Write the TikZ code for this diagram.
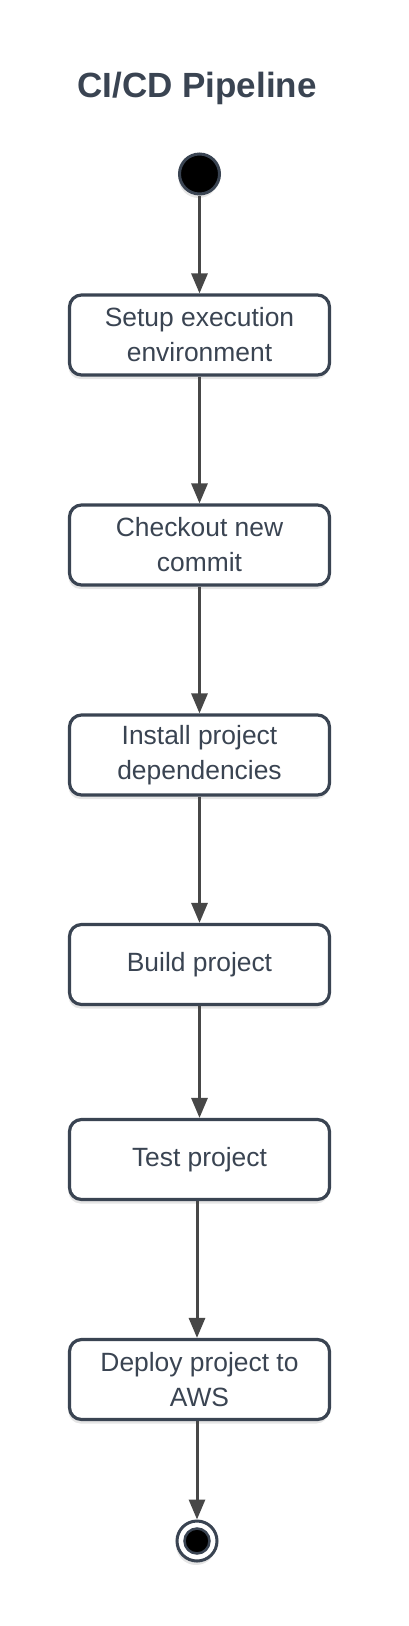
\documentclass[tikz,border=0pt]{standalone}
\usepackage{fontspec}
\setmainfont{Liberation Sans}
\usetikzlibrary{arrows.meta,shadows}
\definecolor{slate}{HTML}{3A4452}
\definecolor{arrowc}{HTML}{474747}
\begin{document}
\begin{tikzpicture}[x=1pt,y=-1pt,
  softshadow/.style={drop shadow={shadow xshift=-1pt, shadow yshift=-4pt, opacity=0.10, fill=black}},
  stepbox/.style={draw=slate, line width=3.2pt, rounded corners=12pt, fill=white,
    minimum width=260pt, minimum height=80pt, text=slate, align=center,
    font=\fontsize{26.4}{35}\selectfont, inner sep=0pt, softshadow},
  arrowline/.style={draw=arrowc, line width=3pt, -{Triangle[length=20pt,width=16pt]}},
]
\fill[white] (0,0) rectangle (408,1626);
\useasboundingbox (0,0) rectangle (408,1626);

\node[font=\bfseries\fontsize{35}{42}\selectfont, text=slate, anchor=base] (title) at (197,97) {CI/CD Pipeline};

\node[circle, draw=slate, line width=3pt, fill=black, minimum size=40pt, inner sep=0pt, softshadow] (start) at (199.5,174) {};

\node[stepbox] (b1) at (199.5,335) {Setup execution\\environment};
\node[stepbox] (b2) at (199.5,545) {Checkout new\\commit};
\node[stepbox] (b3) at (199.5,755) {Install project\\dependencies};
\node[stepbox] (b4) at (199.5,964.5) {Build project};
\node[stepbox] (b5) at (199.5,1159.5) {Test project};
\node[stepbox] (b6) at (199.5,1379.5) {Deploy project to\\AWS};

\node[circle, draw=slate, line width=3pt, fill=white, minimum size=40pt, inner sep=0pt, softshadow] (finish) at (197,1541) {};
\node[circle, draw=slate, line width=2.5pt, fill=black, minimum size=25pt, inner sep=0pt] (finishcore) at (finish.center) {};

\draw[arrowline] (start.south) -- (b1.north);
\draw[arrowline] (b1.south) -- (b2.north);
\draw[arrowline] (b2.south) -- (b3.north);
\draw[arrowline] (b3.south) -- (b4.north);
\draw[arrowline] (b4.south) -- (b5.north);
\draw[arrowline] ([xshift=-2.5pt]b5.south) -- ([xshift=-2.5pt]b6.north);
\draw[arrowline] ([xshift=-2.5pt]b6.south) -- (finish.north);
\end{tikzpicture}
\end{document}
